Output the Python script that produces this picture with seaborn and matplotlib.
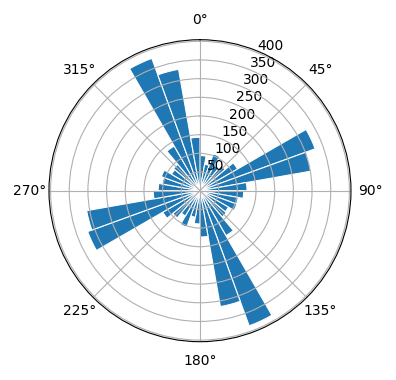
import numpy as np
import matplotlib
matplotlib.use("Agg")
import matplotlib.pyplot as plt
import seaborn as sns

# bin start angles (degrees, clockwise from north), 10-degree bins
bin_starts = list(range(0, 360, 10))
# counts per bin
counts = [94, 72, 105, 78, 88, 116, 328, 302, 126, 117,
          104, 105, 88, 92, 139, 385, 315, 124,
          89, 72, 104, 78, 95, 115, 320, 308, 125, 112,
          103, 110, 88, 92, 138, 377, 330, 143]
bin_width_deg = 10

color = sns.color_palette("tab10")[0]

fig = plt.figure(figsize=(3.96, 3.80), dpi=100)
ax = fig.add_axes([0.1237, 0.1008, 0.7626, 0.7947], projection="polar")
ax.set_theta_zero_location("N")
ax.set_theta_direction(-1)

theta = np.deg2rad(np.array(bin_starts) + bin_width_deg / 2)
ax.bar(theta, counts, width=np.deg2rad(bin_width_deg), bottom=0.0,
       color=color, edgecolor="white", linewidth=0.8)
ax.set_thetagrids(np.arange(0, 360, 45))
ax.set_rgrids(np.arange(50, 401, 50))

fig.savefig("out.png", dpi=100)
